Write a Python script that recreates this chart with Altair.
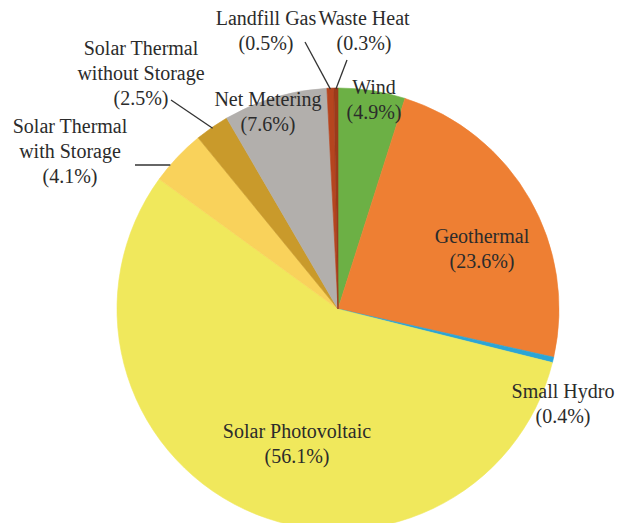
import math
import altair as alt
import pandas as pd

# ---- data ----
categories = ["Wind", "Geothermal", "Small Hydro", "Solar Photovoltaic",
              "Solar Thermal with Storage", "Solar Thermal without Storage",
              "Net Metering", "Landfill Gas", "Waste Heat"]
shares = [4.9, 23.6, 0.4, 56.1, 4.1, 2.5, 7.6, 0.5, 0.3]
label_names = ["Wind", "Geothermal", "Small Hydro", "Solar Photovoltaic",
               "Solar Thermal\nwith Storage", "Solar Thermal\nwithout Storage",
               "Net Metering", "Landfill Gas", "Waste Heat"]

# ---- style / layout ----
colors = ["#6cb045", "#ee7f33", "#2ba5d6", "#f0e85c", "#f9d25b", "#c99a2b",
          "#b2afac", "#b5451f", "#9b3b1b"]
M = 8                       # page margin
CX, CY, R = 338 - M, 309 - M, 221
FONT = "Liberation Serif"
FS = 20
TXT = "#2b2b2b"
# first-line centres of label blocks (page pixels)
label_pos = [(374, 88), (482, 237), (563, 392), (297, 432), (70, 127),
             (141, 49), (268, 100), (266, 19), (364, 19)]
# leader lines: category -> outer end (page pixels)
leaders = {"Landfill Gas": (305, 42), "Waste Heat": (347, 60),
           "Solar Thermal without Storage": (171, 100),
           "Solar Thermal with Storage": (135, 165)}

df = pd.DataFrame({"category": categories, "share": shares,
                   "idx": list(range(len(categories)))})

lab = pd.DataFrame({
    "label": [f"{n}\n({v}%)" for n, v in zip(label_names, shares)],
    "lx": [p[0] - M for p in label_pos],
    "ly": [p[1] - M for p in label_pos],
})

# leader line pie-side ends derived from slice angles
total = sum(shares)
cum = 0.0
mids = {}
for c, v in zip(categories, shares):
    mids[c] = (cum + v / 2) / total * 2 * math.pi
    cum += v
rows = []
for c, (ox, oy) in leaders.items():
    ox, oy = ox - M, oy - M
    if c == "Solar Thermal with Storage":
        ex = CX - math.sqrt(R ** 2 - (oy - CY) ** 2)
        ey = oy
    else:
        a = mids[c]
        ex = CX + (R - 1) * math.sin(a)
        ey = CY - (R - 1) * math.cos(a)
    rows.append({"x": ox, "y": oy, "x2": ex, "y2": ey})
ld = pd.DataFrame(rows)

cscale = alt.Scale(domain=categories, range=colors)
pie = alt.Chart(df).mark_arc(outerRadius=R, strokeWidth=0.6).encode(
    theta=alt.Theta("share:Q", stack=True),
    color=alt.Color("category:N", scale=cscale, legend=None),
    stroke=alt.Stroke("category:N", scale=cscale, legend=None),
    order=alt.Order("idx:Q"),
    x=alt.value(CX),
    y=alt.value(CY),
)

lines = alt.Chart(ld).mark_rule(color="#333333", strokeWidth=1.3).encode(
    x=alt.X("x:Q", scale=None), y=alt.Y("y:Q", scale=None),
    x2="x2:Q", y2="y2:Q",
)

texts = alt.Chart(lab).mark_text(
    font=FONT, fontSize=FS, color=TXT, align="center", baseline="middle",
    lineBreak="\n", lineHeight=25,
).encode(
    x=alt.X("lx:Q", scale=None), y=alt.Y("ly:Q", scale=None), text="label:N",
)

chart = alt.layer(pie, lines, texts).properties(
    width=607, height=515, autosize="none", padding=0, background="white",
).configure_view(stroke=None)

chart.save("out.html", embed_options={"renderer": "svg", "actions": False})
